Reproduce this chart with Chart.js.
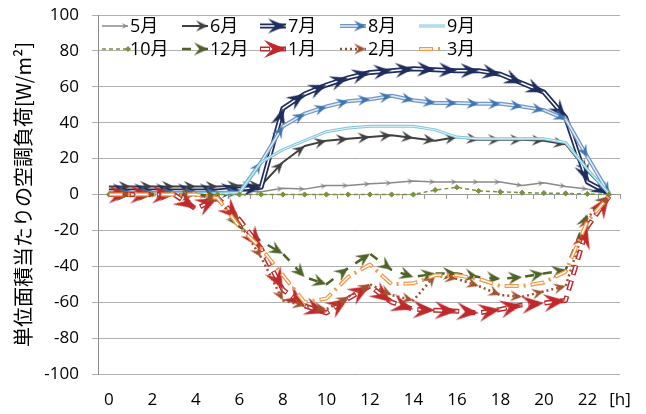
<!DOCTYPE html>
<html><head><meta charset="utf-8">
<script src="https://cdn.jsdelivr.net/npm/chart.js@4.4.0/dist/chart.umd.min.js"></script>
<style>html,body{margin:0;padding:0;background:#fff;}</style>
</head><body>
<canvas id="c" width="646" height="414"></canvas>
<script>
// ---- data ----
const hours = [0,1,2,3,4,5,6,7,8,9,10,11,12,13,14,15,16,17,18,19,20,21,22,23];
const xTickLabels = ['0','','2','','4','','6','','8','','10','','12','','14','','16','','18','','20','','22',''];
const yTickValues = [-100,-80,-60,-40,-20,0,20,40,60,80,100];
const seriesNames = ['5月','6月','7月','8月','9月','10月','12月','1月','2月','3月'];

const may = [2,2,2,2,2,2,2,1.5,3.5,3,5,5,6,6.5,7.5,7,7,7,7,5,6.5,4.5,3,0.5];
const jun = [4.5,4.5,4.5,4.5,4.5,4.5,5,5,18,27,30,31,32,33,31.5,30,32,30.5,30.5,30.5,30,28,13,0.5];
const jul = [2,2,2,2,2,2,3,4,48,56,61,65,68,69,70,69.5,69,69,67,62,57,43,7,0.5];
const aug = [1,1,1,1,1,1,1,18,38,45,49,52,53,55,52.5,51,51,50.5,50.5,49,47,42,21,0.5];
const sep = [0.5,0.5,0.5,0.5,0.5,0.5,1,18,25,30,35,37,38,38,38,36,32,31,31,31,31,29,14,0.5];
const oct = [0,0,0,0,0,0,0,0,0,0,0,0,0,0,0,2.5,4,2,1.5,1,0.8,0.6,0.3,0];
const dec = [0,0,0,0,0,-1,-18,-26,-33,-46,-50,-41,-33,-42,-46,-44,-44,-46,-47,-46,-44,-42,-11,-1];
const jan = [0,0,0,0,-8,-2,-14,-30,-53,-62,-66,-58,-51,-60,-64,-64.5,-65,-66,-64,-61.5,-60.5,-59,-18,-1];
const feb = [0,0,0,0,0,-3,-16,-35,-59,-62,-64,-57,-50,-56,-59,-45,-47,-51,-56,-57,-54,-51,-13,-1];
const mar = [0,0,0,0,0,-2,-18,-30,-45,-60,-58,-46,-39,-50,-49.5,-45,-45,-47,-51,-51,-49,-43,-15,-1];
const seriesValues = [may,jun,jul,aug,sep,oct,dec,jan,feb,mar];

// ---- styles ----
const FONT = "'Open Sans','Noto Sans CJK JP',sans-serif";
const STYLES = [
  {color:'#8a8a8a', width:1.5, arrow:{L:6,W:6,color:'#8a8a8a'}},
  {color:'#404040', width:2, arrow:{L:12,W:11,color:'#404040'}},
  {color:'#1f2d5e', width:5, core:{color:'#ffffff',width:1.5}, arrow:{L:18,W:15,color:'#1f2d5e'}},
  {color:'#6f97c8', width:4, core:{color:'#e3ebf5',width:1.5}, arrow:{L:12,W:11,color:'#3f74b0'}},
  {color:'#82c6dc', width:3, core:{color:'#e4f4f9',width:1}},
  {color:'#77933c', width:1.5, dash:[4,3], marker:'rectRot'},
  {color:'#4f6228', width:2.5, dash:[9,9], arrow:{L:14,W:13,color:'#4f6228'}},
  {color:'#c0282c', width:5, dash:[10,6], core:{color:'#ffffff',width:2}, arrow:{L:22,W:18,color:'#c0282c'}},
  {color:'#a0522d', width:2.5, dash:[2,3], arrow:{L:12,W:11,color:'#a0522d'}},
  {color:'#f79646', width:4, dash:[14,5,2,5], core:{color:'#ffffff',width:1.5}}
];

function arrowImg(a) {
  const c = document.createElement('canvas');
  c.width = Math.ceil(2*a.L); c.height = Math.ceil(a.W)+2;
  const g = c.getContext('2d');
  const tx = c.width/2, cy = c.height/2;
  g.fillStyle = a.color;
  g.beginPath();
  g.moveTo(tx, cy);
  g.lineTo(tx - a.L, cy - a.W/2);
  g.lineTo(tx - 0.62*a.L, cy);
  g.lineTo(tx - a.L, cy + a.W/2);
  g.closePath();
  g.fill();
  return c;
}
STYLES.forEach(s => { if (s.arrow) s.img = arrowImg(s.arrow); });

function rotFn(ctx) {
  const i = ctx.dataIndex;
  if (!i) return 0;
  const xs = ctx.chart.scales.x, ys = ctx.chart.scales.y;
  const d = ctx.dataset.data;
  const dx = xs.getPixelForValue(i) - xs.getPixelForValue(i-1);
  const dy = ys.getPixelForValue(d[i]) - ys.getPixelForValue(d[i-1]);
  const r = Math.atan2(dy, dx) * 180 / Math.PI;
  return isFinite(r) ? r : 0;
}
function coreDash(dash) {
  const total = dash.reduce((a,b)=>a+b,0);
  return [dash[0]-2, total-(dash[0]-2)];
}
function addPoints(d, s) {
  if (s.arrow) {
    d.pointStyle = s.img;
    d.pointRadius = (c) => (c.dataIndex > 0 ? 4 : 0);
    d.pointRotation = rotFn;
  } else if (s.marker) {
    d.pointStyle = s.marker;
    d.pointRadius = 2.6;
    d.pointBackgroundColor = s.color;
    d.pointBorderColor = s.color;
    d.pointBorderWidth = 1;
  } else {
    d.pointRadius = 0;
  }
}

const datasets = [];
seriesNames.forEach((name, k) => {
  const s = STYLES[k];
  const base = {
    label: name, data: seriesValues[k], borderColor: s.color, borderWidth: s.width,
    borderDash: s.dash || [], fill: false, tension: 0, order: 100 - 2*k,
    pointRadius: 0, borderCapStyle: 'butt', borderJoinStyle: 'round', spanGaps: true
  };
  if (s.core) {
    datasets.push(base);
    const core = {
      label: name + ' core', data: seriesValues[k], borderColor: s.core.color, borderWidth: s.core.width,
      borderDash: s.dash ? coreDash(s.dash) : [], borderDashOffset: s.dash ? -1 : 0,
      fill: false, tension: 0, order: 99 - 2*k, borderCapStyle: 'butt', borderJoinStyle: 'round'
    };
    addPoints(core, s);
    datasets.push(core);
  } else {
    addPoints(base, s);
    datasets.push(base);
  }
});

// ---- legend drawn inside the plot (Excel style) ----
const LEG_X = [102, 182, 260, 340, 419];
const LEG_Y = [26, 49];
function drawSample(ctx, s, x0, x1, y) {
  ctx.save();
  ctx.lineCap = 'butt';
  ctx.strokeStyle = s.color; ctx.lineWidth = s.width;
  ctx.setLineDash(s.dash || []);
  ctx.beginPath(); ctx.moveTo(x0, y); ctx.lineTo(x1, y); ctx.stroke();
  if (s.core) {
    ctx.strokeStyle = s.core.color; ctx.lineWidth = s.core.width;
    ctx.setLineDash(s.dash ? coreDash(s.dash) : []);
    ctx.lineDashOffset = s.dash ? -1 : 0;
    ctx.beginPath(); ctx.moveTo(x0, y); ctx.lineTo(x1, y); ctx.stroke();
  }
  ctx.setLineDash([]);
  if (s.img) {
    ctx.drawImage(s.img, x1 - s.img.width/2, y - s.img.height/2);
  } else if (s.marker) {
    ctx.fillStyle = s.color;
    ctx.beginPath();
    ctx.moveTo(x1, y-3); ctx.lineTo(x1+3, y); ctx.lineTo(x1, y+3); ctx.lineTo(x1-3, y); ctx.closePath();
    ctx.fill();
  }
  ctx.restore();
}
const xlLegend = {
  id: 'xlLegend',
  afterDraw(chart) {
    const ctx = chart.ctx;
    seriesNames.forEach((name, i) => {
      const s = STYLES[i];
      const x0 = LEG_X[i % 5], y = LEG_Y[Math.floor(i / 5)];
      const x1 = x0 + 26;
      drawSample(ctx, s, x0, x1, y);
      ctx.save();
      ctx.fillStyle = '#000';
      ctx.font = '18px ' + FONT;
      ctx.textBaseline = 'middle';
      ctx.textAlign = 'left';
      ctx.fillText(name, x1 + 2, y + 1);
      ctx.restore();
    });
    // unit label at the end of the category axis
    const area = chart.chartArea;
    ctx.save();
    ctx.fillStyle = '#000';
    ctx.font = '17px ' + FONT;
    ctx.textBaseline = 'middle';
    ctx.textAlign = 'center';
    ctx.fillText('[h]', area.right, area.bottom + 26.5);
    ctx.restore();
  }
};

new Chart(document.getElementById('c'), {
  type: 'line',
  data: { labels: hours, datasets },
  options: {
    responsive: false, animation: false, devicePixelRatio: 1, events: [],
    layout: { padding: { left: 0, right: 26, top: 15, bottom: 0 }, autoPadding: false },
    plugins: { legend: { display: false }, tooltip: { enabled: false } },
    scales: {
      x: {
        type: 'category', offset: true,
        grid: { display: false, drawTicks: false },
        border: { display: false },
        ticks: { autoSkip: false, maxRotation: 0, padding: 16, color: '#000',
                 font: { family: FONT, size: 17 },
                 callback: (v, i) => xTickLabels[i] },
        afterFit: (s) => { s.height = 40; s.paddingLeft = 0; s.paddingRight = 0; }
      },
      xZero: {
        type: 'category', axis: 'x', offset: true, position: { y: 0 },
        grid: { offset: true, drawOnChartArea: false, drawTicks: true, tickLength: 4, color: '#9a9a9a' },
        border: { display: true, color: '#9a9a9a', width: 1 },
        ticks: { display: false },
        afterFit: (s) => { s.paddingLeft = 0; s.paddingRight = 0; s.paddingTop = 0; s.paddingBottom = 0; }
      },
      y: {
        min: -100, max: 100,
        afterBuildTicks: (s) => { s.ticks = yTickValues.map(v => ({ value: v })); },
        ticks: { padding: 13, color: '#000', font: { family: FONT, size: 17 } },
        grid: { color: '#b0b0b0', lineWidth: 1, tickLength: 6 },
        border: { color: '#8c8c8c', width: 1 },
        title: { display: true, text: '単位面積当たりの空調負荷[W/m²]', color: '#000',
                 font: { family: "'Noto Sans CJK JP',sans-serif", size: 20 },
                 padding: { top: 11, bottom: 0 } },
        afterFit: (s) => { s.width = 98; s.paddingTop = 0; s.paddingBottom = 0; }
      }
    }
  },
  plugins: [xlLegend]
});
</script>
</body></html>
